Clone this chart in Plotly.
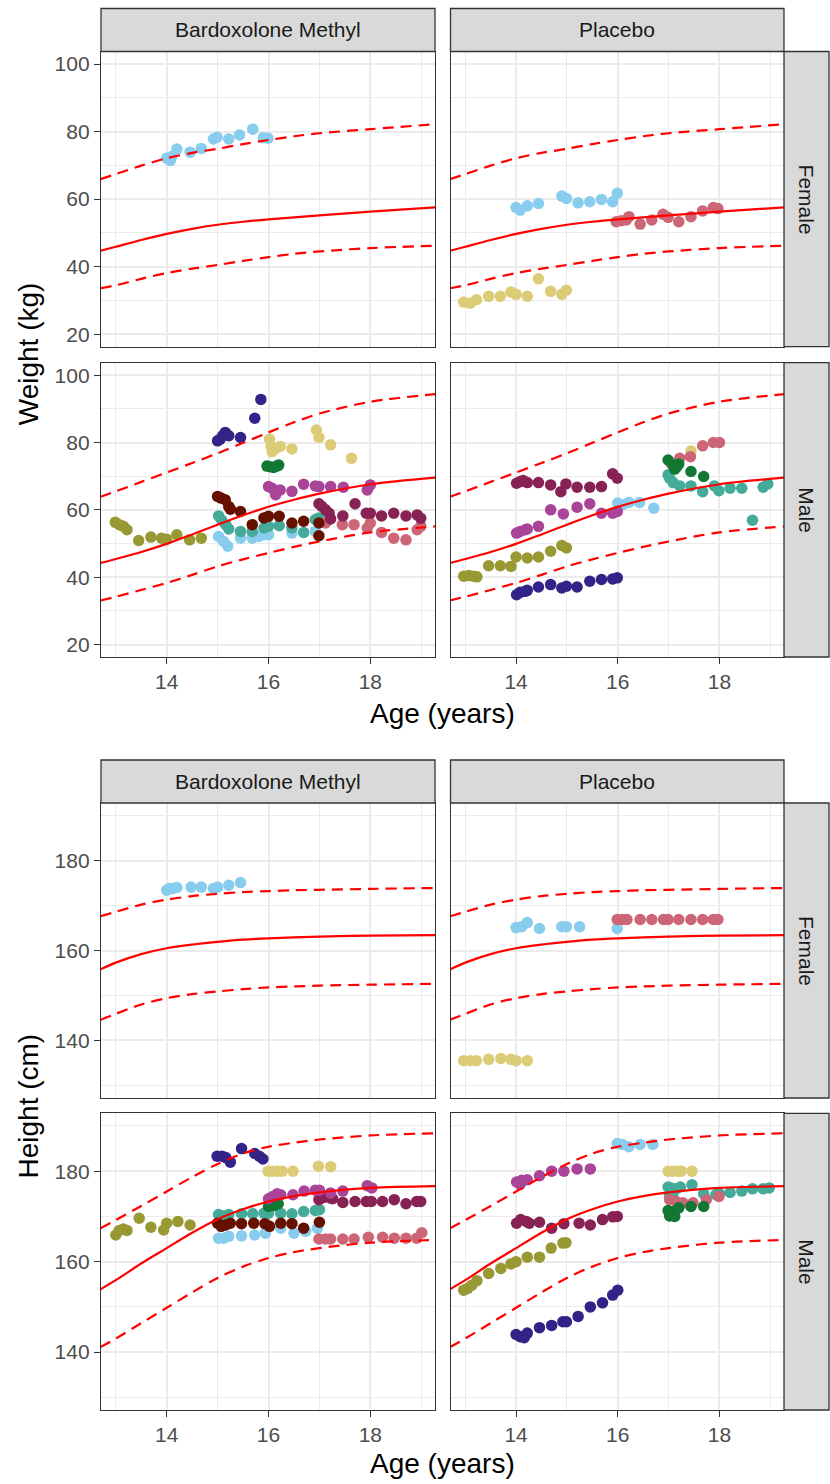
import plotly.graph_objects as go

# ---------------- reference growth curves ----------------
REF_AGE = [12.7, 13, 13.5, 14, 14.5, 15, 15.5, 16, 16.5, 17, 18, 19.3]

WT_F_MID = [44.7, 45.9, 47.9, 49.7, 51.2, 52.4, 53.3, 54.0, 54.6, 55.2, 56.3, 57.6]
WT_F_HI = [65.9, 67.4, 69.9, 72.1, 73.7, 74.9, 76.3, 77.5, 78.6, 79.5, 80.7, 82.2]
WT_F_LO = [33.6, 34.5, 36.4, 38.1, 39.4, 40.5, 41.7, 42.8, 43.8, 44.5, 45.5, 46.2]

WT_M_MID = [44.2, 45.4, 47.5, 49.9, 52.7, 55.6, 58.4, 60.9, 63.0, 64.8, 67.6, 69.6]
WT_M_HI = [63.9, 65.5, 68.3, 71.1, 73.9, 76.8, 79.9, 83.0, 86.0, 88.6, 92.1, 94.4]
WT_M_LO = [33.1, 34.2, 36.2, 38.3, 40.7, 43.2, 45.3, 47.2, 49.0, 50.6, 53.3, 55.1]

HT_F_MID = [155.8, 157.3, 159.2, 160.5, 161.3, 161.9, 162.4, 162.7, 162.9, 163.1, 163.3, 163.4]
HT_F_HI = [167.6, 168.6, 170.2, 171.3, 172.1, 172.6, 173.0, 173.2, 173.4, 173.5, 173.7, 173.9]
HT_F_LO = [144.6, 145.9, 148.0, 149.4, 150.3, 150.9, 151.4, 151.8, 152.0, 152.2, 152.4, 152.6]

HT_M_MID = [153.9, 155.9, 159.6, 163.0, 166.4, 169.4, 171.6, 173.3, 174.5, 175.3, 176.3, 176.7]
HT_M_HI = [167.4, 169.2, 172.3, 175.5, 178.7, 181.6, 183.9, 185.4, 186.3, 187.0, 187.9, 188.4]
HT_M_LO = [141.1, 143.0, 146.4, 149.8, 153.2, 156.4, 158.9, 160.8, 162.1, 163.0, 164.2, 164.8]

# ---------------- observed data: subject -> (age, value) ----------------
WT_BARDOX_F = {
    "S02": ([14.0, 14.07, 14.1, 14.2, 14.46, 14.68, 14.92, 14.99, 15.22, 15.43, 15.69, 15.9, 15.99],
            [72.1, 71.4, 72.6, 74.8, 73.9, 75.0, 77.8, 78.3, 77.8, 79.0, 80.7, 78.2, 78.0]),
}
WT_PLACEBO_F = {
    "S02": ([14.0, 14.08, 14.22, 14.44, 14.9, 14.99, 15.22, 15.45, 15.68, 15.9, 15.99],
            [57.5, 56.7, 58.0, 58.7, 60.9, 60.2, 58.9, 59.2, 59.9, 59.2, 61.7]),
    "S06": ([12.97, 13.1, 13.22, 13.46, 13.69, 13.9, 14.0, 14.22, 14.44, 14.68, 14.9, 14.99],
            [29.5, 29.2, 30.2, 31.2, 31.2, 32.5, 31.8, 31.2, 36.4, 32.7, 31.8, 33.0]),
    "S07": ([15.97, 16.07, 16.17, 16.22, 16.44, 16.67, 16.89, 16.99, 17.2, 17.44, 17.67, 17.88, 17.97],
            [53.3, 53.6, 53.8, 54.8, 52.6, 53.8, 55.5, 54.6, 53.3, 54.8, 56.5, 57.5, 57.2]),
}
WT_BARDOX_M = {
    "S01": ([15.0, 15.05, 15.1, 15.15, 15.22, 15.45, 15.73, 15.85],
            [80.5, 81.0, 82.0, 83.0, 82.0, 81.5, 87.2, 92.8]),
    "S02": ([15.02, 15.12, 15.2, 15.45, 15.68, 15.81, 15.91, 16.0, 16.46, 16.92],
            [52.1, 50.6, 49.2, 51.6, 51.6, 52.1, 52.6, 52.6, 53.1, 53.6]),
    "S03": ([15.02, 15.08, 15.16, 15.22, 15.45, 15.68, 15.91, 16.0, 16.21, 16.46, 16.69, 16.92, 16.99],
            [58.2, 56.9, 55.6, 54.3, 53.6, 53.6, 54.6, 55.1, 55.3, 54.6, 53.3, 57.1, 57.6]),
    "S04": ([15.97, 16.03, 16.1, 16.16, 16.2],
            [73.0, 72.8, 72.6, 73.0, 73.3]),
    "S05": ([12.99, 13.07, 13.15, 13.22, 13.45, 13.69, 13.9, 14.0, 14.2, 14.45, 14.68],
            [56.3, 55.6, 55.1, 54.1, 50.9, 51.9, 51.6, 51.3, 52.6, 51.1, 51.6]),
    "S06": ([16.02, 16.05, 16.07, 16.14, 16.23, 16.46, 16.94, 16.99, 17.22, 17.63],
            [81.0, 78.8, 77.3, 78.3, 78.8, 78.1, 83.7, 81.5, 79.3, 75.3]),
    "S07": ([17.12, 17.45, 17.68, 17.94, 18.0, 18.22, 18.46, 18.7, 18.92, 18.99],
            [56.1, 55.6, 55.6, 54.6, 56.1, 53.3, 51.6, 51.1, 54.1, 55.1]),
    "S08": ([16.99, 17.05, 17.12, 17.19, 17.22, 17.46, 17.7, 17.92, 18.0, 18.22, 18.46, 18.7, 18.92, 18.99],
            [61.8, 61.0, 60.0, 59.0, 57.3, 58.2, 61.8, 59.0, 59.0, 58.2, 59.0, 58.2, 58.5, 57.5]),
    "S09": ([16.0, 16.07, 16.14, 16.23, 16.46, 16.69, 16.92, 16.99, 17.22, 17.47, 17.94, 18.0],
            [66.9, 66.4, 64.5, 65.9, 65.5, 67.6, 67.1, 66.9, 66.9, 66.7, 65.9, 67.4]),
    "S10": ([15.0, 15.07, 15.15, 15.22, 15.25, 15.45, 15.68, 15.91, 16.0, 16.21, 16.46, 16.69, 16.99, 16.99],
            [64.0, 63.5, 63.0, 61.0, 60.2, 59.5, 55.6, 57.6, 58.1, 58.1, 56.1, 56.6, 56.1, 52.3]),
}
WT_PLACEBO_M = {
    "S01": ([14.01, 14.08, 14.18, 14.22, 14.44, 14.68, 14.9, 14.99, 15.2, 15.45, 15.68, 15.9, 15.99],
            [34.8, 35.5, 35.8, 36.1, 37.1, 37.8, 36.8, 37.3, 37.1, 38.8, 39.3, 39.5, 39.8]),
    "S02": ([16.0, 16.1, 16.22, 16.43, 16.71],
            [62.0, 61.5, 62.2, 62.2, 60.5]),
    "S03": ([16.99, 17.02, 17.09, 17.22, 17.44, 17.67, 17.9, 17.99, 18.21, 18.44, 18.65, 18.86, 18.95],
            [70.4, 69.4, 68.1, 67.1, 67.1, 65.4, 67.1, 65.7, 66.4, 66.4, 56.9, 66.7, 67.7]),
    "S05": ([12.97, 13.07, 13.16, 13.23, 13.46, 13.69, 13.9, 14.0, 14.22, 14.44, 14.68, 14.9, 14.99],
            [40.3, 40.5, 40.3, 40.1, 43.4, 43.4, 43.2, 46.0, 45.7, 46.0, 47.7, 49.4, 48.7]),
    "S06": ([17.44], [77.5]),
    "S07": ([17.05, 17.22, 17.43, 17.67, 17.88, 18.0],
            [73.8, 75.3, 75.8, 79.0, 80.0, 80.0]),
    "S04": ([16.99, 17.09, 17.12, 17.15, 17.2, 17.44, 17.69],
            [74.8, 73.3, 72.1, 72.6, 73.6, 71.4, 69.9]),
    "S08": ([14.01, 14.08, 14.14, 14.22, 14.44, 14.68, 14.88, 14.98, 15.2, 15.45, 15.68, 15.9, 15.99],
            [67.9, 68.4, 68.7, 68.1, 68.1, 67.4, 65.4, 67.7, 66.7, 66.7, 66.9, 70.7, 69.4]),
    "S09": ([14.01, 14.08, 14.18, 14.22, 14.44, 14.68, 14.93, 15.2, 15.45, 15.68, 15.9, 15.99],
            [53.1, 53.6, 54.1, 54.3, 55.1, 60.0, 58.8, 60.8, 61.8, 59.0, 59.0, 59.5]),
}
HT_BARDOX_F = {
    "S02": ([14.0, 14.05, 14.12, 14.2, 14.48, 14.68, 14.92, 15.0, 15.22, 15.45],
            [173.4, 173.8, 173.8, 174.0, 174.1, 174.1, 173.8, 174.1, 174.5, 175.1]),
}
HT_PLACEBO_F = {
    "S02": ([14.0, 14.11, 14.22, 14.46, 14.9, 14.99, 15.25, 15.99],
            [165.1, 165.3, 166.2, 164.9, 165.3, 165.3, 165.3, 164.9]),
    "S06": ([12.97, 13.1, 13.22, 13.46, 13.7, 13.9, 14.0, 14.22],
            [135.5, 135.5, 135.5, 135.8, 136.0, 135.8, 135.5, 135.5]),
    "S07": ([15.99, 16.09, 16.18, 16.44, 16.67, 16.9, 16.99, 17.2, 17.44, 17.67, 17.88, 17.97],
            [166.9, 166.9, 166.9, 166.9, 166.9, 166.9, 166.9, 166.9, 166.9, 166.9, 166.9, 166.9]),
}
HT_BARDOX_M = {
    "S01": ([14.99, 15.09, 15.16, 15.25, 15.47, 15.73, 15.82, 15.89],
            [183.3, 183.3, 183.0, 182.0, 185.0, 183.9, 183.3, 182.7]),
    "S02": ([15.02, 15.12, 15.22, 15.47, 15.73, 15.94, 16.24, 16.5, 16.73, 16.96],
            [165.2, 165.2, 165.6, 165.7, 165.9, 166.3, 167.4, 166.3, 166.7, 167.4]),
    "S03": ([15.02, 15.12, 15.22, 15.47, 15.69, 15.91, 16.0, 16.24, 16.46, 16.69, 16.92, 17.0],
            [170.4, 170.1, 170.4, 170.6, 170.6, 170.7, 170.7, 170.7, 170.6, 171.1, 171.3, 171.5]),
    "S04": ([16.0, 16.1, 16.19], [172.2, 172.4, 172.8]),
    "S05": ([13.0, 13.07, 13.15, 13.22, 13.46, 13.69, 13.94, 14.0, 14.22, 14.46],
            [165.9, 166.9, 167.2, 166.9, 169.6, 167.6, 167.0, 168.5, 168.9, 168.1]),
    "S06": ([15.99, 16.07, 16.17, 16.27, 16.48, 16.98, 17.22],
            [180.0, 180.0, 180.0, 180.0, 180.0, 181.1, 181.0]),
    "S07": ([16.99, 17.12, 17.22, 17.46, 17.68, 17.96, 18.24, 18.47, 18.7, 18.91, 19.01],
            [165.0, 165.0, 165.0, 165.0, 165.0, 165.4, 165.4, 165.2, 165.2, 165.2, 166.4]),
    "S08": ([16.99, 17.05, 17.13, 17.22, 17.26, 17.46, 17.7, 17.92, 18.02, 18.24, 18.47, 18.7, 18.91, 18.99],
            [173.7, 174.1, 174.3, 174.1, 173.9, 173.1, 173.3, 173.3, 173.3, 173.3, 173.7, 172.8, 173.3, 173.3]),
    "S09": ([16.0, 16.08, 16.17, 16.24, 16.48, 16.7, 16.92, 17.0, 17.22, 17.46, 17.94, 18.03],
            [173.9, 174.4, 175.0, 174.8, 174.8, 175.6, 175.8, 175.8, 175.2, 175.6, 176.8, 176.3]),
    "S10": ([15.0, 15.07, 15.16, 15.25, 15.47, 15.71, 15.93, 16.02, 16.24, 16.46, 16.69, 17.0],
            [168.5, 167.8, 168.1, 168.5, 168.4, 168.5, 168.4, 167.8, 168.5, 168.4, 167.4, 168.7]),
}
HT_PLACEBO_M = {
    "S01": ([14.0, 14.08, 14.16, 14.22, 14.46, 14.7, 14.92, 14.99, 15.22, 15.46, 15.7, 15.9, 16.0],
            [143.9, 143.4, 143.2, 144.2, 145.4, 145.9, 146.7, 146.7, 147.9, 150.0, 150.9, 152.6, 153.7]),
    "S02": ([15.99, 16.09, 16.22, 16.44, 16.69],
            [186.1, 185.9, 185.4, 185.9, 185.9]),
    "S03": ([16.99, 17.02, 17.05, 17.08, 17.15, 17.23, 17.46, 17.69, 17.93, 18.0, 18.21, 18.44, 18.65, 18.86, 18.98],
            [176.5, 174.8, 176.3, 174.4, 176.1, 176.5, 177.0, 175.0, 174.8, 175.0, 175.3, 175.6, 176.1, 176.1, 176.3]),
    "S05": ([12.97, 13.05, 13.13, 13.23, 13.46, 13.7, 13.9, 14.0, 14.22, 14.46, 14.69, 14.92, 14.98],
            [153.7, 154.1, 154.8, 155.8, 157.4, 158.5, 159.5, 160.0, 161.0, 161.0, 163.0, 164.1, 164.2]),
    "S06": ([16.99, 17.08, 17.18, 17.25, 17.46],
            [180.0, 180.0, 180.0, 180.0, 180.0]),
    "S07": ([17.02, 17.15, 17.28, 17.48, 17.74, 17.99],
            [173.7, 173.3, 173.0, 173.0, 173.7, 174.4]),
    "S04": ([16.99, 17.02, 17.09, 17.12, 17.2, 17.44, 17.69],
            [171.3, 170.1, 171.1, 170.0, 171.9, 172.2, 172.2]),
    "S08": ([14.01, 14.09, 14.2, 14.26, 14.46, 14.7, 14.94, 15.24, 15.46, 15.7, 15.9, 15.99],
            [168.5, 169.3, 168.9, 168.5, 168.7, 167.4, 168.4, 168.5, 168.1, 169.3, 169.9, 170.0]),
    "S09": ([14.01, 14.08, 14.11, 14.22, 14.46, 14.7, 14.94, 15.2, 15.46],
            [177.6, 177.1, 178.0, 178.1, 179.0, 180.0, 180.0, 180.5, 180.5]),
}

ARMS = ["Bardoxolone Methyl", "Placebo"]
SEXES = ["Female", "Male"]
AGE_TICKS = [14, 16, 18]
WT_TICKS = [20, 40, 60, 80, 100]
HT_TICKS = [140, 160, 180]

# ---------------- styling ----------------
SUBJECT_COLOURS = {
    "S01": "#332288", "S02": "#88CCEE", "S03": "#44AA99", "S04": "#117733",
    "S05": "#999933", "S06": "#DDCC77", "S07": "#CC6677", "S08": "#882255",
    "S09": "#AA4499", "S10": "#661100",
}
FONT = "Liberation Sans, Arial, sans-serif"
W, H = 830, 1484
GRID = "#EBEBEB"
BORDER = "#333333"
STRIP_FILL = "#D9D9D9"

COLS_PX = [(101, 435), (450.5, 784)]
WT_ROWS_PX = [(51.5, 346.7), (362.7, 657)]
HT_ROWS_PX = [(803, 1098), (1113.3, 1410)]
STRIP_X_PX = (784, 829)
WT_STRIP_Y_PX = (8.5, 51.5)
HT_STRIP_Y_PX = (760, 803)

X_RANGE = [12.71, 19.27]
WT_RANGE = [16.3, 103.7]
HT_RANGE = [127.2, 192.8]


def px_x(v):
    return v / W


def px_y(v):
    return 1 - v / H


fig = go.Figure()
layout = {}

panels = [
    # (data, curves, row box, col index, y range, y ticks, y minor, is bottom row)
    (WT_BARDOX_F, (WT_F_MID, WT_F_HI, WT_F_LO), WT_ROWS_PX[0], 0, WT_RANGE, WT_TICKS, [30, 50, 70, 90], False),
    (WT_PLACEBO_F, (WT_F_MID, WT_F_HI, WT_F_LO), WT_ROWS_PX[0], 1, WT_RANGE, WT_TICKS, [30, 50, 70, 90], False),
    (WT_BARDOX_M, (WT_M_MID, WT_M_HI, WT_M_LO), WT_ROWS_PX[1], 0, WT_RANGE, WT_TICKS, [30, 50, 70, 90], True),
    (WT_PLACEBO_M, (WT_M_MID, WT_M_HI, WT_M_LO), WT_ROWS_PX[1], 1, WT_RANGE, WT_TICKS, [30, 50, 70, 90], True),
    (HT_BARDOX_F, (HT_F_MID, HT_F_HI, HT_F_LO), HT_ROWS_PX[0], 0, HT_RANGE, HT_TICKS, [130, 150, 170, 190], False),
    (HT_PLACEBO_F, (HT_F_MID, HT_F_HI, HT_F_LO), HT_ROWS_PX[0], 1, HT_RANGE, HT_TICKS, [130, 150, 170, 190], False),
    (HT_BARDOX_M, (HT_M_MID, HT_M_HI, HT_M_LO), HT_ROWS_PX[1], 0, HT_RANGE, HT_TICKS, [130, 150, 170, 190], True),
    (HT_PLACEBO_M, (HT_M_MID, HT_M_HI, HT_M_LO), HT_ROWS_PX[1], 1, HT_RANGE, HT_TICKS, [130, 150, 170, 190], True),
]

tick_font = dict(family=FONT, size=21, color="#4D4D4D")

for i, (data, curves, rowbox, col, yrange, yticks, yminor, bottom) in enumerate(panels, start=1):
    xa, ya = f"x{i}", f"y{i}"
    xkey = "xaxis" if i == 1 else f"xaxis{i}"
    ykey = "yaxis" if i == 1 else f"yaxis{i}"
    left = col == 0
    cx0, cx1 = COLS_PX[col]
    ry0, ry1 = rowbox
    layout[xkey] = dict(
        domain=[px_x(cx0), px_x(cx1)], range=X_RANGE, anchor=ya,
        tickmode="array", tickvals=AGE_TICKS, showticklabels=bottom,
        ticks="outside" if bottom else "", ticklen=6, tickwidth=1.3, tickcolor=BORDER,
        tickfont=tick_font, showgrid=True, gridcolor=GRID, gridwidth=1.6,
        minor=dict(tickvals=[13, 15, 17, 19], showgrid=True, gridcolor=GRID, gridwidth=0.8),
        showline=True, mirror=True, linecolor=BORDER, linewidth=1.3, zeroline=False,
    )
    layout[ykey] = dict(
        domain=[px_y(ry1), px_y(ry0)], range=yrange, anchor=xa,
        tickmode="array", tickvals=yticks, showticklabels=left,
        ticks="outside" if left else "", ticklen=6, tickwidth=1.3, tickcolor=BORDER,
        tickfont=tick_font, showgrid=True, gridcolor=GRID, gridwidth=1.6,
        minor=dict(tickvals=yminor, showgrid=True, gridcolor=GRID, gridwidth=0.8),
        showline=True, mirror=True, linecolor=BORDER, linewidth=1.3, zeroline=False,
    )

    for subj, (ages, vals) in data.items():
        fig.add_trace(go.Scatter(
            x=ages, y=vals, mode="markers", xaxis=xa, yaxis=ya,
            marker=dict(size=11.5, color=SUBJECT_COLOURS[subj], line=dict(width=0)),
            showlegend=False, hoverinfo="x+y", name=subj,
        ))
    mid, hi, lo = curves
    for vals, dash in ((mid, "solid"), (hi, "11px,7px"), (lo, "11px,7px")):
        fig.add_trace(go.Scatter(
            x=REF_AGE, y=vals, mode="lines", xaxis=xa, yaxis=ya,
            line=dict(color="#FF0000", width=2.2, dash=dash, shape="spline", smoothing=0.9),
            showlegend=False, hoverinfo="skip",
        ))

shapes = []
annotations = []

# strips along the top of each block
for sy0, sy1 in (WT_STRIP_Y_PX, HT_STRIP_Y_PX):
    for (cx0, cx1), arm in zip(COLS_PX, ARMS):
        shapes.append(dict(type="rect", xref="paper", yref="paper",
                           x0=px_x(cx0), x1=px_x(cx1), y0=px_y(sy1), y1=px_y(sy0),
                           fillcolor=STRIP_FILL, line=dict(color=BORDER, width=1.3), layer="above"))
        annotations.append(dict(xref="paper", yref="paper", x=px_x((cx0 + cx1) / 2),
                                y=px_y((sy0 + sy1) / 2), text=arm, showarrow=False,
                                font=dict(family=FONT, size=21, color="#1A1A1A"),
                                xanchor="center", yanchor="middle"))

# strips down the right-hand side
for rows in (WT_ROWS_PX, HT_ROWS_PX):
    for (ry0, ry1), sex in zip(rows, SEXES):
        shapes.append(dict(type="rect", xref="paper", yref="paper",
                           x0=px_x(STRIP_X_PX[0]), x1=px_x(STRIP_X_PX[1]),
                           y0=px_y(ry1), y1=px_y(ry0),
                           fillcolor=STRIP_FILL, line=dict(color=BORDER, width=1.3), layer="above"))
        annotations.append(dict(xref="paper", yref="paper",
                                x=px_x((STRIP_X_PX[0] + STRIP_X_PX[1]) / 2),
                                y=px_y((ry0 + ry1) / 2), text=sex, showarrow=False, textangle=90,
                                font=dict(family=FONT, size=21, color="#1A1A1A"),
                                xanchor="center", yanchor="middle"))

# axis titles
title_font = dict(family=FONT, size=28, color="#000000")
mid_x = (COLS_PX[0][0] + COLS_PX[1][1]) / 2
for label, ypx in (("Age (years)", 713), ("Age (years)", 1463)):
    annotations.append(dict(xref="paper", yref="paper", x=px_x(mid_x), y=px_y(ypx), text=label,
                            showarrow=False, font=title_font, xanchor="center", yanchor="middle"))
for label, rows in (("Weight (kg)", WT_ROWS_PX), ("Height (cm)", HT_ROWS_PX)):
    cy = (rows[0][0] + rows[1][1]) / 2
    annotations.append(dict(xref="paper", yref="paper", x=px_x(28), y=px_y(cy), text=label,
                            showarrow=False, textangle=-90, font=title_font,
                            xanchor="center", yanchor="middle"))

fig.update_layout(
    width=W, height=H, margin=dict(l=0, r=0, t=0, b=0),
    paper_bgcolor="white", plot_bgcolor="white",
    font=dict(family=FONT), showlegend=False,
    shapes=shapes, annotations=annotations, **layout,
)

fig.write_html("out.html")
